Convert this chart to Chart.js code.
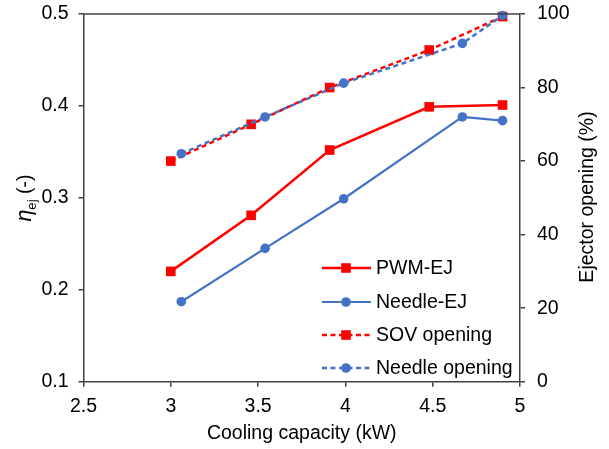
<!DOCTYPE html>
<html>
<head>
<meta charset="utf-8">
<script src="https://cdn.jsdelivr.net/npm/chart.js@4"></script>
<style>
  body { margin: 0; background: #fff; }
  #wrap { width: 609px; height: 449px; position: relative; }
</style>
</head>
<body>
<div id="wrap"><canvas id="chart"></canvas></div>
<script>
'use strict'

// Data
const pwmCapacity = [3.0, 3.46, 3.91, 4.48, 4.9];
const pwmEta = [0.22, 0.281, 0.352, 0.399, 0.401];
const sovOpening = [60, 70, 80, 90.2, 99.3];

const needleCapacity = [3.06, 3.54, 3.99, 4.67, 4.9];
const needleEta = [0.187, 0.245, 0.299, 0.388, 0.384];
const needleOpening = [62, 72, 81.2, 92, 99.6];

const xTicks = [2.5, 3, 3.5, 4, 4.5, 5];
const etaTicks = [0.1, 0.2, 0.3, 0.4, 0.5];
const openingTicks = [0, 20, 40, 60, 80, 100];

const RED = '#ff0000';
const BLUE = '#4472c4';
const AXIS = '#404040';
const FONT = "'Liberation Sans', Arial, sans-serif";
const FS = 19.5;

const pts = (xs, ys) => xs.map((x, i) => ({x: x, y: ys[i]}));

const series = [
    {label: 'PWM-EJ', data: pts(pwmCapacity, pwmEta), color: RED, style: 'rect', r: 6.8, dash: [], width: 2.5, axis: 'y', order: 3},
    {label: 'Needle-EJ', data: pts(needleCapacity, needleEta), color: BLUE, style: 'circle', r: 4.8, dash: [], width: 2.2, axis: 'y', order: 4},
    {label: 'SOV opening', data: pts(pwmCapacity, sovOpening), color: RED, style: 'rect', r: 6.8, dash: [5, 3.5], width: 2.5, axis: 'y2', order: 2},
    {label: 'Needle opening', data: pts(needleCapacity, needleOpening), color: BLUE, style: 'circle', r: 4.8, dash: [5, 3.5], width: 2.5, axis: 'y2', order: 1}
];

// legend box inside the plot, bottom right
const legendBox = {
    id: 'legendBox',
    afterDatasetsDraw(chart) {
        const ctx = chart.ctx;
        const rows = [268, 302, 335, 368];
        ctx.save();
        series.forEach((s, i) => {
            const y = rows[i];
            ctx.strokeStyle = s.color;
            ctx.lineWidth = s.width;
            ctx.setLineDash(s.dash);
            ctx.beginPath();
            ctx.moveTo(322, y);
            ctx.lineTo(371, y);
            ctx.stroke();
            ctx.setLineDash([]);
            ctx.fillStyle = s.color;
            ctx.beginPath();
            if (s.style === 'rect') {
                const h = s.r * Math.SQRT1_2;
                ctx.rect(346 - h, y - h, 2 * h, 2 * h);
            } else {
                ctx.arc(346, y, s.r, 0, Math.PI * 2);
            }
            ctx.fill();
            ctx.fillStyle = '#000';
            ctx.font = FS + 'px ' + FONT;
            ctx.textBaseline = 'middle';
            ctx.textAlign = 'left';
            ctx.fillText(s.label, 376, y + 1);
        });
        ctx.restore();
    }
};

// top frame line and the two y titles
const decor = {
    id: 'decor',
    afterDraw(chart) {
        const ctx = chart.ctx;
        const a = chart.chartArea;
        ctx.save();
        ctx.strokeStyle = AXIS;
        ctx.lineWidth = 1.5;
        ctx.beginPath();
        ctx.moveTo(a.left, a.top);
        ctx.lineTo(a.right, a.top);
        ctx.stroke();

        // left title: eta_ej (-)
        ctx.fillStyle = '#000';
        ctx.textBaseline = 'alphabetic';
        ctx.textAlign = 'left';
        const fEta = 'italic ' + (FS + 2) + 'px ' + FONT;
        const fSub = (FS * 0.68) + 'px ' + FONT;
        const fRest = FS + 'px ' + FONT;
        ctx.font = fEta; const wEta = ctx.measureText('η').width;
        ctx.font = fSub; const wSub = ctx.measureText('ej').width;
        ctx.font = fRest; const wRest = ctx.measureText(' (-)').width;
        const total = wEta + wSub + wRest;
        ctx.translate(31, 198);
        ctx.rotate(-Math.PI / 2);
        let x = -total / 2;
        ctx.font = fEta; ctx.fillText('η', x, 0); x += wEta;
        ctx.font = fSub; ctx.fillText('ej', x, 5); x += wSub;
        ctx.font = fRest; ctx.fillText(' (-)', x, 0);
        ctx.restore();

        ctx.save();
        ctx.fillStyle = '#000';
        ctx.font = FS + 'px ' + FONT;
        ctx.textAlign = 'center';
        ctx.textBaseline = 'middle';
        ctx.translate(588, 197);
        ctx.rotate(-Math.PI / 2);
        ctx.fillText('Ejector opening (%)', 0, 0);
        ctx.restore();
    }
};

const tickFont = {family: FONT, size: FS};
const gridOut = {drawOnChartArea: false, drawTicks: true, tickLength: 5, color: AXIS, lineWidth: 1.5};

const fitY = w => sc => { sc.width = w; sc.paddingTop = 0; sc.paddingBottom = 0; };

new Chart(document.getElementById('chart'), {
    type: 'line',
    data: {
        datasets: series.map(s => ({
            label: s.label,
            data: s.data,
            yAxisID: s.axis,
            order: s.order,
            borderColor: s.color,
            backgroundColor: s.color,
            borderWidth: s.width,
            borderDash: s.dash,
            pointStyle: s.style,
            pointRadius: s.r,
            pointHoverRadius: s.r,
            pointBorderWidth: 0,
            tension: 0,
            clip: false
        }))
    },
    options: {
        responsive: true,
        maintainAspectRatio: false,
        animation: false,
        layout: {padding: {top: 14, left: 0, right: 0, bottom: 0}},
        plugins: {legend: {display: false}, tooltip: {enabled: false}},
        scales: {
            x: {
                type: 'linear', min: 2.5, max: 5,
                afterBuildTicks: sc => { sc.ticks = xTicks.map(v => ({value: v})); },
                afterFit: sc => { sc.height = 67.3; sc.paddingLeft = 0; sc.paddingRight = 0; },
                ticks: {font: tickFont, color: '#000', padding: 8, maxRotation: 0, callback: v => String(v)},
                grid: gridOut,
                border: {color: AXIS, width: 1.5},
                title: {display: true, text: 'Cooling capacity (kW)', font: tickFont, color: '#000', padding: {top: 4, bottom: 4}}
            },
            y: {
                position: 'left', min: 0.1, max: 0.5,
                afterBuildTicks: sc => { sc.ticks = etaTicks.map(v => ({value: v})); },
                afterFit: fitY(83.5),
                ticks: {font: tickFont, color: '#000', padding: 10, callback: v => String(v)},
                grid: gridOut,
                border: {color: AXIS, width: 1.5}
            },
            y2: {
                position: 'right', min: 0, max: 100,
                afterBuildTicks: sc => { sc.ticks = openingTicks.map(v => ({value: v})); },
                afterFit: fitY(89),
                ticks: {font: tickFont, color: '#000', padding: 12},
                grid: gridOut,
                border: {color: AXIS, width: 1.5}
            }
        }
    },
    plugins: [legendBox, decor]
});
</script>
</body>
</html>
